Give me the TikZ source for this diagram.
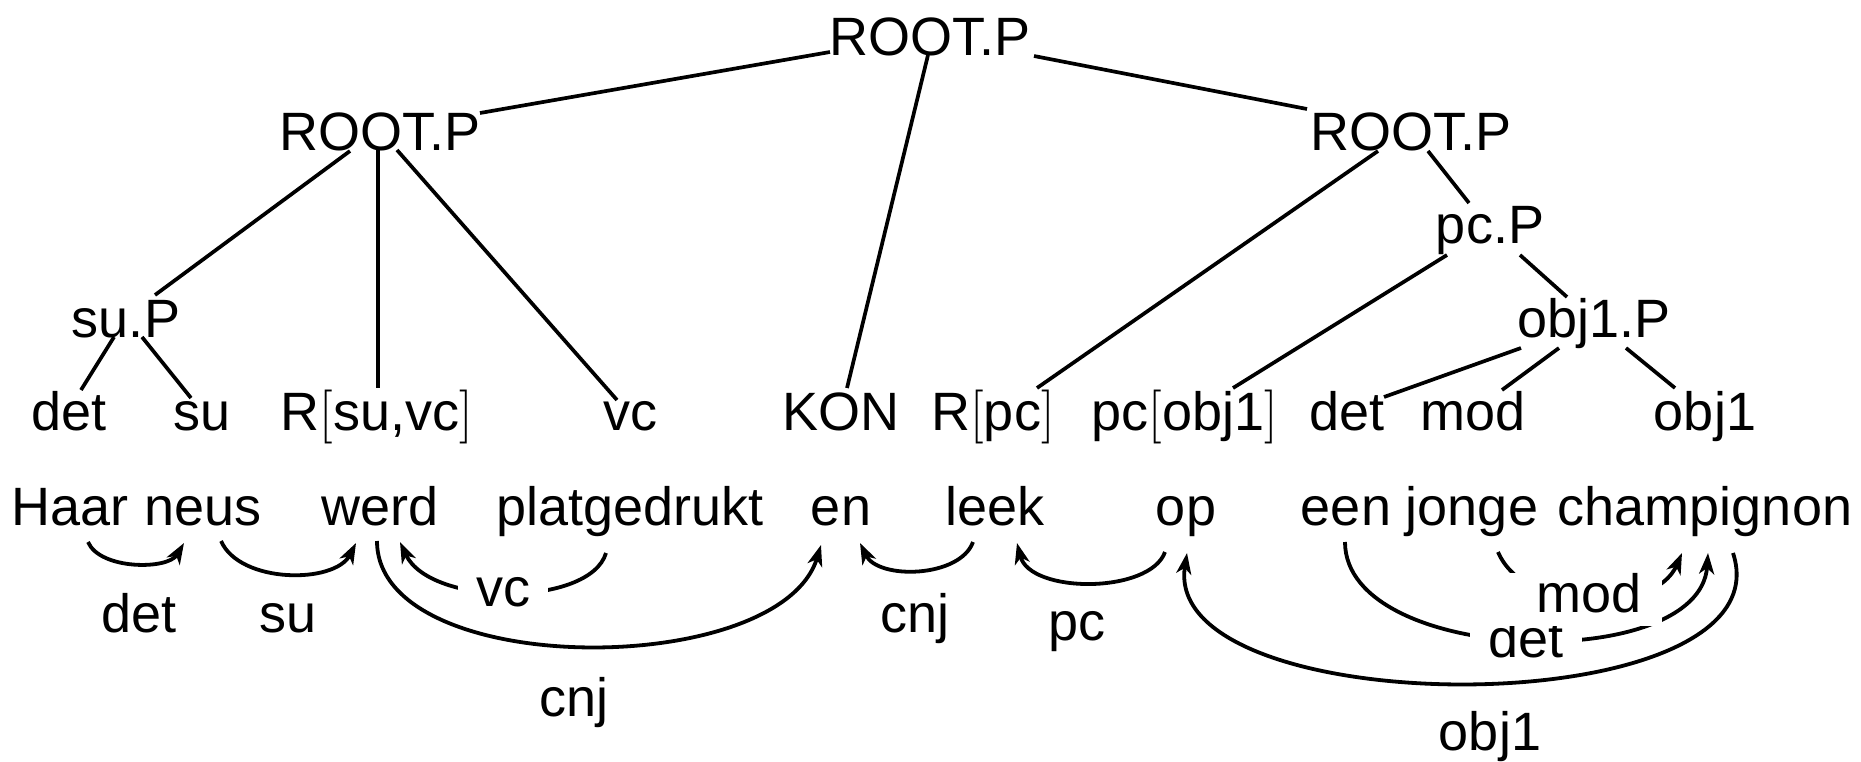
\documentclass[tikz,border=0pt]{standalone}
\usepackage{fontspec}
\newfontfamily\hv{Liberation Sans}
\usetikzlibrary{arrows.meta,calc}
\tikzset{
  w/.style={anchor=base, inner sep=0pt, font=\hv\fontsize{54}{60}\selectfont},
  lab/.style={w, fill=white, inner xsep=18pt, inner ysep=2pt},
  edge/.style={line width=3.7pt},
  dep/.style={line width=3.8pt, -{Stealth[length=21pt,width=15pt,inset=6pt]}},
}
\newcommand{\lb}{{\rmfamily[}}
\newcommand{\rb}{{\rmfamily]}}
\begin{document}
\begin{tikzpicture}[x=1pt,y=-1pt]
\useasboundingbox (0,0) rectangle (1861,761);
% tree nodes
\node[w] (rootT) at (930,55) {ROOT.P};
\node[w] (rootL) at (380,150) {ROOT.P};
\node[w] (rootR) at (1411,150) {ROOT.P};
\node[w] (suP) at (126,337) {su.P};
\node[w] (pcP) at (1490,243) {pc.P};
\node[w] (objP) at (1594,337) {obj1.P};
\node[w] (tDet) at (69,430) {det};
\node[w] (tSu) at (202,430) {su};
\node[w] (tRsuvc) at (377,430) {R\lb su,vc\rb};
\node[w] (tVc) at (630,430) {vc};
\node[w] (tKon) at (841,430) {KON};
\node[w] (tRpc) at (993,430) {R\lb pc\rb};
\node[w] (tPcobj) at (1185,430) {pc\lb obj1\rb};
\node[w] (tDetB) at (1347,430) {det};
\node[w] (tMod) at (1473,430) {mod};
\node[w] (tObj) at (1705,430) {obj1};
% tree edges
\draw[edge] ($(rootT.base)+(-100,-3)$) -- ($(rootL.base)+(100,-37)$);
\draw[edge] ($(rootT.base)+(-2,0)$) -- ($(tKon.base)+(6,-42)$);
\draw[edge] ($(rootT.base)+(104,1)$) -- ($(rootR.base)+(-104,-41)$);
\draw[edge] ($(rootL.base)+(-30,1)$) -- ($(suP.base)+(29,-42)$);
\draw[edge] ($(rootL.base)+(-2,0)$) -- ($(tRsuvc.base)+(1,-42)$);
\draw[edge] ($(rootL.base)+(17,0)$) -- ($(tVc.base)+(-13,-30)$);
\draw[edge] ($(suP.base)+(-12,0)$) -- ($(tDet.base)+(12,-40)$);
\draw[edge] ($(suP.base)+(16,0)$) -- ($(tSu.base)+(-11,-32)$);
\draw[edge] ($(rootR.base)+(-33,1)$) -- ($(tRpc.base)+(44,-42)$);
\draw[edge] ($(rootR.base)+(17,1)$) -- ($(pcP.base)+(-21,-40)$);
\draw[edge] ($(pcP.base)+(-43,12)$) -- ($(tPcobj.base)+(48,-42)$);
\draw[edge] ($(pcP.base)+(30,12)$) -- ($(objP.base)+(-27,-40)$);
\draw[edge] ($(objP.base)+(-73,11)$) -- ($(tDetB.base)+(37,-33)$);
\draw[edge] ($(objP.base)+(-35,11)$) -- ($(tMod.base)+(29,-40)$);
\draw[edge] ($(objP.base)+(32,11)$) -- ($(tObj.base)+(-30,-42)$);
% words
\node[w] (wHaar) at (70,525) {Haar};
\node[w] (wNeus) at (203,525) {neus};
\node[w] (wWerd) at (380,525) {werd};
\node[w] (wPlat) at (630,525) {platgedrukt};
\node[w] (wEn) at (841,525) {en};
\node[w] (wLeek) at (995,525) {leek};
\node[w] (wOp) at (1186,525) {op};
\node[w] (wEen) at (1346,525) {een};
\node[w] (wJonge) at (1472,525) {jonge};
\node[w] (wChamp) at (1705,525) {champignon};
% plain labels
\node[w] (lDetA) at (139,632) {det};
\node[w] (lSu) at (288,632) {su};
\node[w] (lCnjA) at (574,716) {cnj};
\node[w] (lCnjB) at (915,632) {cnj};
\node[w] (lPc) at (1077,640) {pc};
\node[w] (lObj) at (1490,750) {obj1};
% dependency arcs
\draw[dep] ($(wHaar.base)+(18,17)$) .. controls +(12,28) and +(-16,27) .. ($(wNeus.base)+(-19,18)$);
\draw[dep] ($(wNeus.base)+(18,16)$) .. controls +(19,43) and +(-21,41) .. ($(wWerd.base)+(-24,18)$);
\draw[dep] ($(wWerd.base)+(-3,16)$) .. controls +(0,139) and +(-41,135) .. ($(wEn.base)+(-20,20)$);
\draw[dep] ($(wPlat.base)+(-24,28)$) .. controls +(-16,54) and +(30,65) .. ($(wWerd.base)+(20,17)$);
\node[lab] (lVc) at (503,606) {vc};
\draw[dep] ($(wLeek.base)+(-22,17)$) .. controls +(-13,36) and +(18,37) .. ($(wEn.base)+(19,18)$);
\draw[dep] ($(wOp.base)+(-21,27)$) .. controls +(-15,42) and +(13,51) .. ($(wLeek.base)+(22,18)$);
\draw[dep] ($(wChamp.base)+(28,28)$) .. controls +(57,173) and +(-27,173) .. ($(wOp.base)+(1,28)$);
\draw[dep] ($(wEen.base)+(-1,17)$) .. controls +(0,123) and +(-8,122) .. ($(wChamp.base)+(3,28)$);
\node[lab] (lDetB) at (1526,657) {det};
\draw[dep] ($(wJonge.base)+(26,27)$) .. controls +(27,63) and +(-27,62) .. ($(wChamp.base)+(-23,28)$);
\node[lab, anchor=base east, inner ysep=0pt, inner xsep=20pt, text depth=14pt] (lMod) at (1662,612) {\hspace*{40pt}mod};
\end{tikzpicture}
\end{document}
